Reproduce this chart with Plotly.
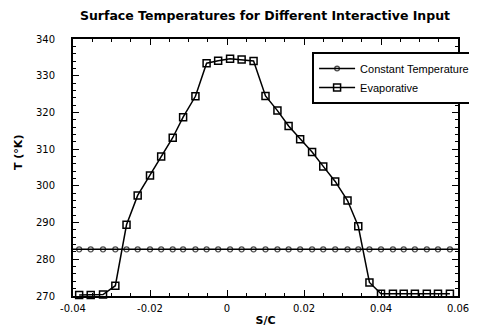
import plotly.graph_objects as go

title = "Surface Temperatures for Different Interactive Input"
x_label = "S/C"
y_label = "T (°K)"

s_c = [-0.0384, -0.0354, -0.0322, -0.0290, -0.0261, -0.0232, -0.0200, -0.0171,
       -0.0141, -0.0114, -0.0082, -0.0053, -0.0023, 0.0008, 0.0038, 0.0069,
       0.0100, 0.0131, 0.0160, 0.0190, 0.0221, 0.0250, 0.0281, 0.0313,
       0.0341, 0.0370, 0.0400, 0.0431, 0.0459, 0.0488, 0.0519, 0.0548, 0.0579]

evaporative = [270.3, 270.3, 270.4, 272.8, 289.4, 297.4, 302.8, 308.0,
               313.1, 318.7, 324.4, 333.4, 334.1, 334.6, 334.4, 334.0,
               324.5, 320.5, 316.3, 312.7, 309.2, 305.3, 301.2, 296.0,
               289.0, 273.7, 270.6, 270.6, 270.6, 270.6, 270.6, 270.6, 270.6]

const_x = [-0.04] + s_c + [0.06]
constant_temp = [282.7] * len(const_x)

x_ticks = [-0.04, -0.02, 0, 0.02, 0.04, 0.06]
x_tick_text = ["-0.04", "-0.02", "0", "0.02", "0.04", "0.06"]
y_ticks = [270, 280, 290, 300, 310, 320, 330, 340]

bold_font = "DejaVu Sans"
legend_font = "Liberation Sans"

# page body has an 8px default margin, so the figure is drawn 8px smaller
W, H = 469, 319

fig = go.Figure()
fig.add_trace(go.Scatter(
    x=const_x, y=constant_temp, name="Constant Temperature",
    mode="lines+markers",
    line=dict(color="black", width=1.5),
    marker=dict(symbol="circle-open", size=[0] + [5] * len(s_c) + [0],
                color="black", line=dict(width=1.3)),
    cliponaxis=False,
))
fig.add_trace(go.Scatter(
    x=s_c, y=evaporative, name="Evaporative",
    mode="lines+markers",
    line=dict(color="black", width=1.5),
    marker=dict(symbol="square-open", size=7, color="black",
                line=dict(width=1.5)),
    cliponaxis=False,
))

fig.update_layout(
    width=W, height=H,
    margin=dict(l=65, r=19, t=31, b=31, autoexpand=False),
    paper_bgcolor="white", plot_bgcolor="white",
    title=dict(text="<b>" + title + "</b>", x=257 / W, xanchor="center",
               y=1 - 8 / H, yanchor="middle",
               font=dict(family=bold_font, size=12.5, color="black")),
    showlegend=True,
    legend=dict(x=0.621, y=0.949, xanchor="left", yanchor="top",
                bgcolor="white", bordercolor="black", borderwidth=2,
                font=dict(family=legend_font, size=11, color="black"),
                tracegroupgap=0, itemwidth=36),
    font=dict(family=bold_font, color="black"),
    annotations=[dict(text="<b>" + y_label + "</b>", textangle=-90,
                      x=(18 - 73) / 385, y=(296 - 153) / 257,
                      xref="paper", yref="paper",
                      showarrow=False, xanchor="center", yanchor="middle",
                      font=dict(family=bold_font, size=11, color="black"))],
)

fig.update_xaxes(
    range=[-0.04, 0.06], tickvals=x_ticks, ticktext=x_tick_text,
    ticks="inside", ticklen=6, tickwidth=1.2, tickcolor="black",
    minor=dict(dtick=0.005, ticks="inside", ticklen=3, tickcolor="black", tickwidth=1),
    showline=True, linecolor="black", linewidth=2, mirror="ticks",
    showgrid=False, zeroline=False,
    tickfont=dict(family=bold_font, size=10, color="black"),
    ticklabelstandoff=2,
    title=dict(text="<b>" + x_label + "</b>", standoff=8,
               font=dict(family=bold_font, size=11, color="black")),
)
fig.update_yaxes(
    range=[270, 340], tickvals=y_ticks,
    ticks="inside", ticklen=6, tickwidth=1.2, tickcolor="black",
    minor=dict(dtick=2, ticks="inside", ticklen=3, tickcolor="black", tickwidth=1),
    showline=True, linecolor="black", linewidth=2, mirror="ticks",
    showgrid=False, zeroline=False,
    tickfont=dict(family=bold_font, size=10, color="black"),
    ticklabelstandoff=14,
)

fig.write_html("out.html")
